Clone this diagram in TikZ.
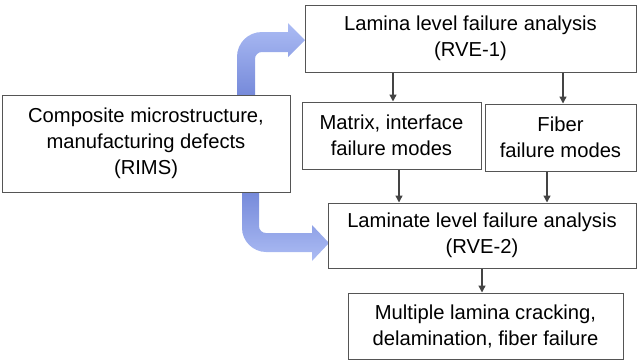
\documentclass[tikz,border=0pt]{standalone}
\usepackage{fontspec}
\setmainfont{Liberation Sans}
\usetikzlibrary{arrows.meta}
\definecolor{bluedark}{RGB}{118,138,218}
\definecolor{bluelight}{RGB}{172,188,244}
\definecolor{boxline}{RGB}{85,85,85}
\begin{document}
\begin{tikzpicture}[x=1pt, y=-1pt,
		box/.style={draw=boxline, line width=1pt, fill=white, align=center, inner sep=0pt, font=\fontsize{20.2}{26}\selectfont},
		flow/.style={draw=boxline!80!black, line width=1.4pt, -{Triangle[length=7pt,width=7pt]}}]
		\useasboundingbox (0,0) rectangle (637,360);
		
		%--- setas azuis
		\shade[top color=bluelight, bottom color=bluedark] (237,95) -- (237,57) .. controls (237,43) and (248,32) .. (262,32) -- (288,32) -- (288,23) -- (305,40) -- (288,57) -- (288,52) -- (262,52) .. controls (258,52) and (255,55) .. (255,59) -- (255,95) -- cycle;
		\shade[top color=bluedark, bottom color=bluelight] (242,192) -- (242,228) .. controls (242,241) and (253,252) .. (266,252) -- (312,252) -- (312,261) -- (329,243) -- (312,225) -- (312,233) -- (266,233) .. controls (262,233) and (259,230) .. (259,226) -- (259,192) -- cycle;
		
		%--- caixas
		\node[box, minimum width=288pt, minimum height=97pt] (rims) at (146,143.5) {Composite microstructure,\\ manufacturing defects\\ (RIMS)};
		\node[box, minimum width=331pt, minimum height=67pt] (lamina) at (470.5,38.5) {Lamina level failure analysis\\ (RVE-1)};
		\node[box, minimum width=179pt, minimum height=67pt] (matrix) at (391.5,135.5) {Matrix, interface\\ failure modes};
		\node[box, minimum width=151pt, minimum height=67pt] (fiber) at (560.5,137.5) {Fiber\\ failure modes};
		\node[box, minimum width=308pt, minimum height=65pt] (laminate) at (482,235.5) {Laminate level failure analysis\\ (RVE-2)};
		\node[box, minimum width=275pt, minimum height=66pt] (multiple) at (485.5,326) {Multiple lamina cracking,\\ delamination, fiber failure};
		
		%--- setas
		\draw[flow] ([xshift=1.5pt]lamina.south -| matrix.north) -- ([xshift=1.5pt]matrix.north);
		\draw[flow] ([xshift=2.5pt]lamina.south -| fiber.north) -- ([xshift=2.5pt]fiber.north);
		\draw[flow] ([xshift=7.5pt]matrix.south) -- ([xshift=7.5pt]matrix.south |- laminate.north);
		\draw[flow] ([xshift=-13.5pt]fiber.south) -- ([xshift=-13.5pt]fiber.south |- laminate.north);
		\draw[flow] (laminate.south) -- (laminate.south |- multiple.north);
	\end{tikzpicture}
\end{document}
